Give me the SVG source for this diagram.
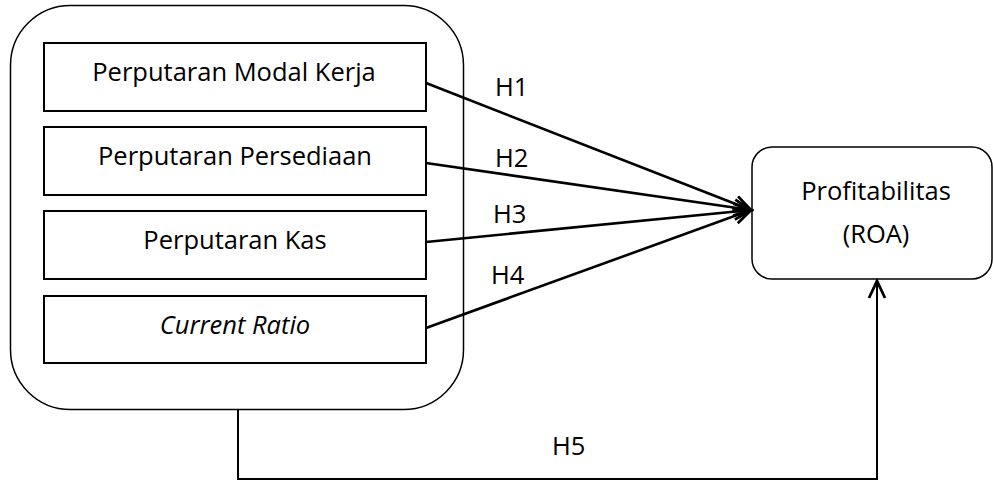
<svg xmlns="http://www.w3.org/2000/svg" width="993" height="481" viewBox="0 0 993 481">
<style>
  text { font-family: "Open Sans", "Liberation Sans", sans-serif; font-size: 25.5px; fill: #000; }
  .box { fill: #fff; stroke: #000; stroke-width: 2; }
  .outer { fill: #fff; stroke: #000; stroke-width: 1.5; }
  .conn { fill: none; stroke: #000; stroke-width: 2.6; }
  .plain { fill: none; stroke: #000; stroke-width: 2; }
</style>
<defs>
  <marker id="arr" markerUnits="userSpaceOnUse" markerWidth="24" markerHeight="24" viewBox="0 0 24 24" refX="21" refY="12" orient="auto">
    <path d="M4,4 L21,12 L4,20" fill="none" stroke="#000" stroke-width="2.8"/>
  </marker>
</defs>
<rect width="993" height="481" fill="#fff"/>
<g id="group-independent">
  <rect class="outer" x="10.5" y="5.5" width="453" height="404" rx="60" ry="60"/>
</g>
<g id="node-modal-kerja">
  <rect class="box" x="44" y="43" width="382" height="68"/>
  <text x="234" y="81" text-anchor="middle">Perputaran Modal Kerja</text>
</g>
<g id="node-persediaan">
  <rect class="box" x="44" y="127" width="382" height="68"/>
  <text x="235" y="165" text-anchor="middle">Perputaran Persediaan</text>
</g>
<g id="node-kas">
  <rect class="box" x="44" y="211" width="382" height="68"/>
  <text x="235" y="249" text-anchor="middle">Perputaran Kas</text>
</g>
<g id="node-current-ratio">
  <rect class="box" x="44" y="296" width="382" height="67"/>
  <text x="235" y="334" text-anchor="middle" font-style="italic">Current Ratio</text>
</g>
<g id="node-roa">
  <rect class="outer" x="752" y="147" width="240" height="132" rx="20" ry="20"/>
  <text x="876" y="200" text-anchor="middle">Profitabilitas</text>
  <text x="876" y="243" text-anchor="middle">(ROA)</text>
</g>
<g id="connectors">
  <line class="conn" x1="426" y1="83" x2="751" y2="210" marker-end="url(#arr)"/>
  <line class="conn" x1="426" y1="163" x2="751" y2="210" marker-end="url(#arr)"/>
  <line class="conn" x1="426" y1="242" x2="751" y2="210" marker-end="url(#arr)"/>
  <line class="conn" x1="426" y1="328" x2="751" y2="210" marker-end="url(#arr)"/>
  <polyline class="plain" points="238,410 238,479 877,479 877,281" marker-end="url(#arr)"/>
  <text x="495" y="96">H1</text>
  <text x="495" y="167">H2</text>
  <text x="493" y="223">H3</text>
  <text x="491" y="284">H4</text>
  <text x="552" y="455">H5</text>
</g>
</svg>
